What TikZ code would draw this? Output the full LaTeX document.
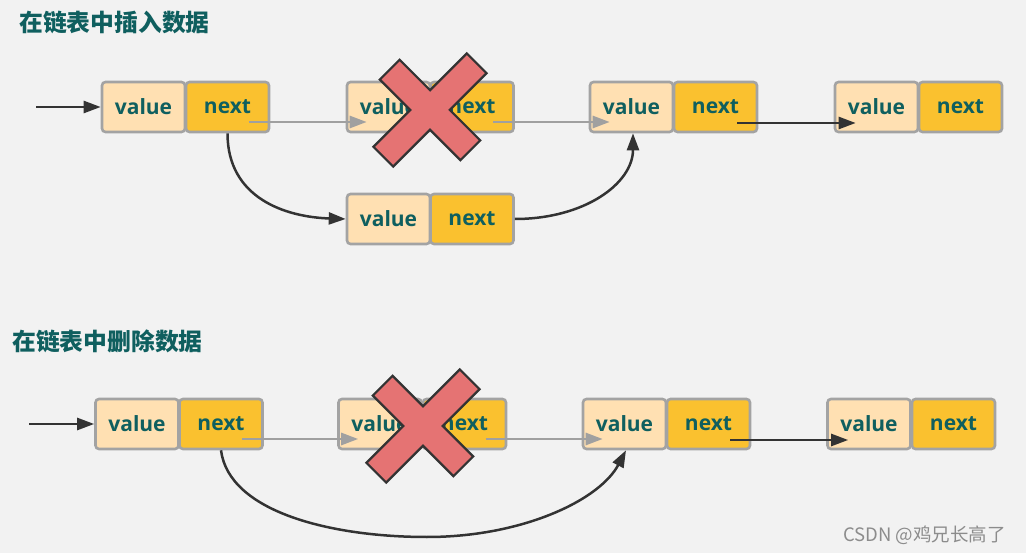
\documentclass[tikz,border=0pt]{standalone}
\usepackage{fontspec}
\setmainfont{Open Sans}
\newfontfamily\cjk{Noto Sans CJK SC}
\usetikzlibrary{arrows.meta,calc}
\definecolor{bg}{HTML}{F2F2F2}
\definecolor{valfill}{HTML}{FFE0B2}
\definecolor{nextfill}{HTML}{FAC12F}
\definecolor{boxline}{HTML}{A3A3A3}
\definecolor{tealtext}{HTML}{0F5F5F}
\definecolor{darkline}{HTML}{333333}
\definecolor{grayline}{HTML}{A0A0A0}
\definecolor{xred}{HTML}{E57373}
\tikzset{
  valbox/.style={draw=boxline, line width=2.6pt, fill=valfill, rounded corners=3.5pt,
    minimum width=83pt, minimum height=50pt, inner sep=0pt,
    font=\bfseries\fontsize{21}{21}\selectfont, text=tealtext},
  nextbox/.style={valbox, fill=nextfill},
  title/.style={anchor=west, inner sep=0pt, font=\cjk\bfseries\fontsize{23.8}{23.8}\selectfont, text=tealtext},
  tip/.style={-{Triangle[length=17pt,width=12pt]}},
  grayarrow/.style={tip, draw=grayline, line width=2.7pt},
  darkarrow/.style={tip, draw=darkline, line width=2.5pt},
  crossshape/.style={fill=xred, draw=darkline, line width=2.2pt, line join=miter}
}
\newcommand{\bigcross}[2]{%
  \begin{scope}[shift={(#1,#2)}, x={(0.7071pt,-0.7071pt)}, y={(0.7071pt,0.7071pt)}]
    \path[crossshape] (57,14)--(14,14)--(14,66)--(-14,66)--(-14,14)--(-57,14)--(-57,-14)--(-14,-14)--(-14,-66)--(14,-66)--(14,-14)--(57,-14)--cycle;
  \end{scope}}
\begin{document}
\begin{tikzpicture}[x=1pt,y=-1pt]
\fill[bg] (0,0) rectangle (1026,553);
\useasboundingbox (0,0) rectangle (1026,553);

% titles
\node[title] (t1) at (19,22) {在链表中插入数据};
\node[title] (t2) at (12,341) {在链表中删除数据};

% ---------- insert ----------
\node[valbox]  (a1v) at (143.5,107) {value};
\node[nextbox] (a1n) at (227.5,107) {next};
\node[valbox]  (a2v) at (388.5,107) {value};
\node[nextbox] (a2n) at (472,107) {next};
\node[valbox]  (a3v) at (631.5,107) {value};
\node[nextbox] (a3n) at (715.5,107) {next};
\node[valbox]  (a4v) at (876.5,107) {value};
\node[nextbox] (a4n) at (960.5,107) {next};
\node[valbox]  (aiv) at (388.5,219) {value};
\node[nextbox] (ain) at (472,219) {next};

\coordinate (ain0) at (36,107);
\draw[darkarrow] (ain0) -- (a1v.west);
\draw[grayarrow] ($(a1n.center)+(21,15)$) -- ($(a2v.west)+(21,15)$);
\draw[grayarrow] ($(a2n.center)+(21,15)$) -- ($(a3v.west)+(21,15)$);
\draw[darkarrow] ($(a3n.center)+(21.5,16)$) -- ($(a4v.west)+(22,16)$);
\draw[darkarrow] (a1n.south) .. controls ($(a1n.south)+(0,65)$) and ($(aiv.west)+(-60,-2)$) .. (aiv.west);
\draw[darkarrow] (ain.east) .. controls ($(ain.east)+(70,0)$) and ($(a3v.south)+(1.5,50)$) .. ($(a3v.south)+(1.5,0)$);

% ---------- delete ----------
\node[valbox]  (b1v) at (137,424) {value};
\node[nextbox] (b1n) at (221,424) {next};
\node[valbox]  (b2v) at (380,424) {value};
\node[nextbox] (b2n) at (464.5,424) {next};
\node[valbox]  (b3v) at (624.5,424) {value};
\node[nextbox] (b3n) at (708.5,424) {next};
\node[valbox]  (b4v) at (869,424) {value};
\node[nextbox] (b4n) at (953.5,424) {next};

\coordinate (bin0) at (29,424);
\draw[darkarrow] (bin0) -- (b1v.west);
\draw[grayarrow] ($(b1n.center)+(21,15)$) -- ($(b2v.west)+(21,15)$);
\draw[grayarrow] ($(b2n.center)+(21,15)$) -- ($(b3v.west)+(21,15)$);
\draw[darkarrow] ($(b3n.center)+(21.5,16)$) -- ($(b4v.west)+(22,16)$);
\coordinate (blow) at (427,537);
\draw[darkarrow] (b1n.south) .. controls ($(b1n.south)+(8,62)$) and ($(blow)+(-95,0)$) .. (blow)
  .. controls ($(blow)+(95,0)$) and ($(b3v.south)+(-25,50)$) .. ($(b3v.south)+(1.5,0)$);

% crosses
\bigcross{430}{110}
\bigcross{423}{426}

% watermark
\node[anchor=west, inner sep=0pt, text=gray!90, font=\cjk\fontsize{18.5}{18.5}\selectfont] (wm) at (843,535) {CSDN @鸡兄长高了};
\end{tikzpicture}
\end{document}
